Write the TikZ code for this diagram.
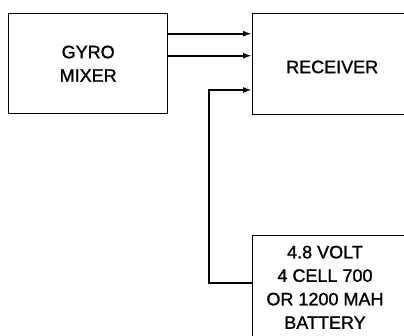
\documentclass[tikz,border=0pt]{standalone}
\usepackage{fontspec}
\setmainfont[FakeBold=1.2]{Liberation Sans}
\usetikzlibrary{arrows.meta}
\tikzset{
  blockbox/.style={draw=black, line width=1.4pt, rectangle, inner sep=0pt},
  lbl/.style={font=\fontsize{18}{23.5}\selectfont, align=center, inner sep=0pt},
  arr/.style={line width=1.8pt, -{Latex[length=9pt,width=6pt]}},
}
\begin{document}
\begin{tikzpicture}[x=1pt,y=1pt]
\useasboundingbox (0,0) rectangle (404,336);
\clip (0,0) rectangle (404,336);
\fill[white] (0,0) rectangle (404,336);
% blocks
\node[blockbox, lbl, anchor=north west, minimum width=159pt, minimum height=100pt] (gyro) at (8,323) {GYRO\\MIXER};
\node[blockbox, lbl, anchor=north west, minimum width=159pt, minimum height=101pt, text height=17.9pt, text depth=0pt] (rec) at (252,323) {RECEIVER};
\node[blockbox, anchor=north west, minimum width=180pt, minimum height=130pt] (bat) at (252,101) {};
\node[lbl] (battxt) at (325,48.7) {4.8 VOLT\\4 CELL 700\\OR 1200 MAH\\BATTERY};
% connectors
\draw[arr] ([yshift=30pt]gyro.east) -- ([yshift=30pt]gyro.east -| rec.west);
\draw[arr] ([yshift=8pt]gyro.east) -- ([yshift=8pt]gyro.east -| rec.west);
\coordinate (batout) at ([yshift=-48pt]bat.north west);
\coordinate (recin) at ([yshift=-77pt]rec.north west);
\draw[arr] (batout) -- (209,53) |- (recin);
\end{tikzpicture}
\end{document}
